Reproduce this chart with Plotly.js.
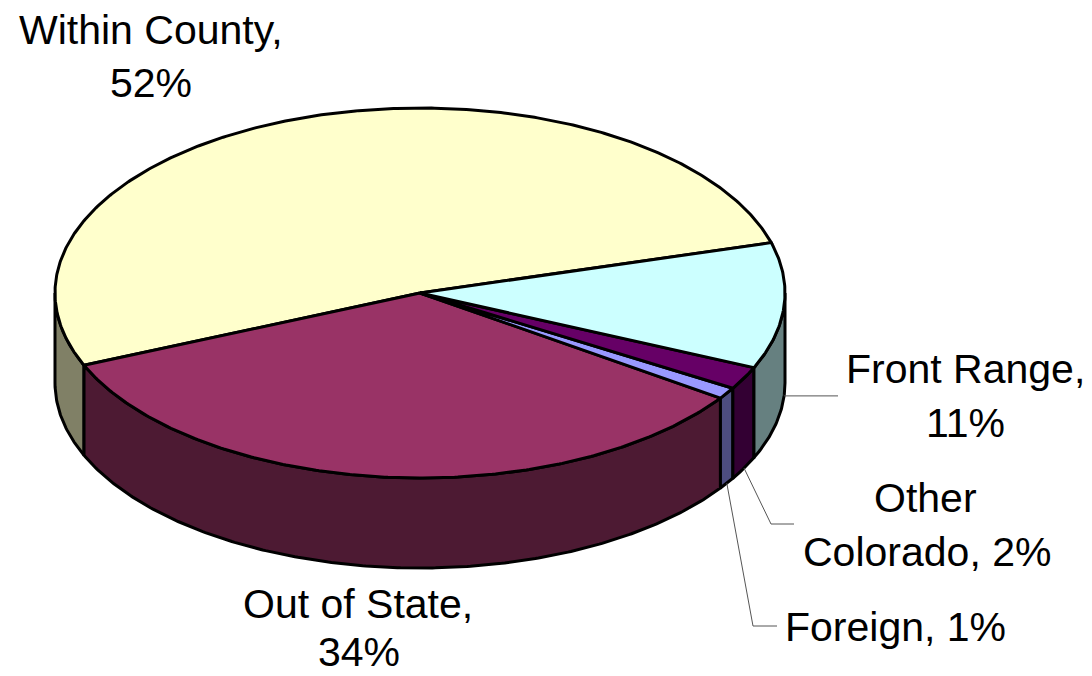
<!DOCTYPE html>
<html>
<head>
<meta charset="utf-8">
<script src="https://cdn.plot.ly/plotly-3.0.1.min.js"></script>
<style>html,body{margin:0;padding:0;background:#fff}#chart{width:1092px;height:676px}</style>
</head>
<body>
<div id="chart"></div>
<script>
// Origin of visitors, drawn clockwise from the boundary on the right of the disc.
const categories = ["Within County", "Out of State", "Foreign", "Other Colorado", "Front Range"];
const shares = [52, 34, 1, 2, 11];
const topColors = ["#FFFFCC", "#993366", "#9999FF", "#660066", "#CCFFFF"];
const wallColors = ["#808066", "#4D1A33", "#4D4D80", "#330033", "#668080"];

// Text lines of each label with their centres.
const labelLines = ["Within County,", "52%", "Front Range,", "11%", "Other", "Colorado, 2%", "Foreign, 1%", "Out of State,", "34%"];
const labelX = [151, 151, 965, 965, 925, 927, 895, 358, 359];
const labelY = [30, 83, 369, 423, 498, 552, 627, 604, 652];

// Disc projection on the pixel-scaled axes.
const cx = 420, cy = 293, rx = 365, ry = 185, depth = 90;
const firstBoundary = 15.8;   // degrees counter-clockwise from the right-hand side

const rad = d => d * Math.PI / 180;
const px = a => cx + rx * Math.cos(rad(a));
const py = (a, drop) => cy - ry * Math.sin(rad(a)) + (drop || 0);

function arc(from, to) {
  const n = Math.max(2, Math.ceil(Math.abs(to - from) * 2));
  return Array.from({length: n + 1}, (_, i) => from + (to - from) * i / n);
}

// Slice spans, counter-clockwise in degrees.
const total = shares.reduce((s, v) => s + v, 0);
let cursor = firstBoundary;
const spans = shares.map(v => {
  const span = [cursor, cursor + v / total * 360];
  cursor = span[1];
  return span;
});

const poly = (x, y, fill) => ({
  type: "scatter", mode: "lines", x, y, fill: "toself", fillcolor: fill,
  line: {color: "#000000", width: 3}, hoverinfo: "skip", showlegend: false
});

const traces = [];

// Rim walls: only the part of each slice on the near half (180 to 360 degrees).
spans.forEach((s, i) => {
  const from = Math.max(s[0], 180);
  const to = Math.min(s[1], 360);
  if (to <= from) return;
  const a = arc(from, to);
  const back = a.slice().reverse();
  traces.push(poly(
    a.map(px).concat(back.map(px), [px(from)]),
    a.map(t => py(t)).concat(back.map(t => py(t, depth)), [py(from)]),
    wallColors[i]
  ));
});

// Top faces.
spans.forEach((s, i) => {
  const a = arc(s[0], s[1]);
  traces.push(poly(
    [cx].concat(a.map(px), [cx]),
    [cy].concat(a.map(t => py(t)), [cy]),
    topColors[i]
  ));
});

// Leader lines from the lower rim of the small slices to their labels.
const mid = name => { const s = spans[categories.indexOf(name)]; return (s[0] + s[1]) / 2; };
const leader = (name, elbowX, endX, endY) => {
  const a = mid(name);
  traces.push({
    type: "scatter", mode: "lines",
    x: [px(a), elbowX, endX], y: [py(a, depth), endY, endY],
    line: {color: "#555555", width: 1}, hoverinfo: "skip", showlegend: false
  });
};
leader("Other Colorado", 771, 794, 524);
leader("Foreign", 753, 777, 626);
{
  const a = mid("Front Range") - 360;
  const startX = px(a), startY = py(a, depth);
  traces.push({
    type: "scatter", mode: "lines", x: [startX, 838], y: [startY, startY],
    line: {color: "#555555", width: 1}, hoverinfo: "skip", showlegend: false
  });
}

const annotations = labelLines.map((t, i) => ({
  text: t, x: labelX[i], y: labelY[i], xref: "x", yref: "y",
  xanchor: "center", yanchor: "middle", showarrow: false,
  font: {family: "Liberation Sans, Arial, sans-serif", size: 41, color: "#000000"}
}));

const hidden = {visible: false, fixedrange: true};
Plotly.newPlot("chart", traces, {
  width: 1092, height: 676,
  margin: {l: 0, r: 0, t: 0, b: 0},
  paper_bgcolor: "#ffffff", plot_bgcolor: "#ffffff",
  xaxis: Object.assign({range: [0, 1092]}, hidden),
  yaxis: Object.assign({range: [676, 0]}, hidden),
  showlegend: false,
  annotations
}, {staticPlot: true, displayModeBar: false});
</script>
</body>
</html>
